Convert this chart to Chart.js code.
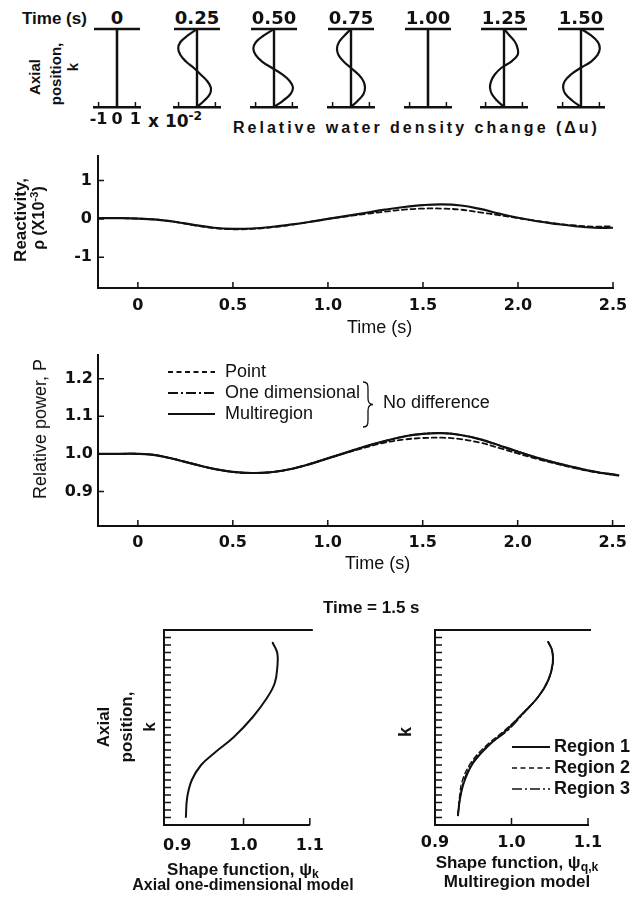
<!DOCTYPE html>
<html>
<head>
<meta charset="utf-8">
<script src="https://cdn.jsdelivr.net/npm/chart.js@4.4.1/dist/chart.umd.min.js"></script>
<style>
  body { margin: 0; background: #fff; }
  #page { position: relative; width: 643px; height: 900px; overflow: hidden; color: #111;
          font-family: "Liberation Sans", Arial, sans-serif; }
  canvas { position: absolute; }
  .t { position: absolute; white-space: nowrap; line-height: 1; transform: translate(0, -50%); }
  .c { transform: translate(-50%, -50%); }
  .r { transform: translate(-50%, -50%) rotate(-90deg); }
  .b { font-weight: bold; }
  .d { font-family: "DejaVu Sans", sans-serif; }
  sup { font-size: 0.72em; vertical-align: 0.5em; line-height: 0; }
  sub { font-size: 0.72em; vertical-align: -0.3em; line-height: 0; }
</style>
</head>
<body>
<div id="page">
  <div class="t b" style="left:22px;top:18px;font-size:17px">Time (s)</div>
  <div class="t b r" style="left:34px;top:77px;font-size:15px">Axial</div>
  <div class="t b r" style="left:55px;top:74px;font-size:15px">position,</div>
  <div class="t b r" style="left:72px;top:67px;font-size:15px">k</div>
  <div class="t b d" style="left:148px;top:121px;font-size:17px">x 10<sup>-2</sup></div>
  <div class="t b" style="left:233px;top:128px;font-size:16px;letter-spacing:3px">Relative water density change (Δu)</div>

  <canvas id="reactChart" width="643" height="200" style="left:0;top:140px"></canvas>
  <div class="t b r" style="left:20px;top:220px;font-size:17px">Reactivity,</div>
  <div class="t b r" style="left:39px;top:218px;font-size:16px">ρ (X10<sup>-3</sup>)</div>
  <div class="t" style="left:347px;top:327px;font-size:18px">Time (s)</div>

  <canvas id="powerChart" width="643" height="220" style="left:0;top:340px"></canvas>
  <div class="t r" style="left:40px;top:429px;font-size:18px">Relative power, P</div>
  <div class="t" style="left:345px;top:563px;font-size:18px">Time (s)</div>

  <div class="t b" style="left:323px;top:607px;font-size:17px">Time = 1.5 s</div>

  <canvas id="shapeAxial" width="245" height="245" style="left:90px;top:620px"></canvas>
  <div class="t b r" style="left:103px;top:727px;font-size:17px">Axial</div>
  <div class="t b r" style="left:126px;top:727px;font-size:17px">position,</div>
  <div class="t b r" style="left:149px;top:727px;font-size:17px">k</div>
  <div class="t b c" style="left:243px;top:869px;font-size:17px">Shape function, ψ<sub>k</sub></div>
  <div class="t b c" style="left:243px;top:885px;font-size:16px">Axial one-dimensional model</div>

  <canvas id="shapeMulti" width="263" height="245" style="left:380px;top:620px"></canvas>
  <div class="t b r" style="left:405px;top:732px;font-size:18px">k</div>
  <div class="t b c" style="left:517px;top:862px;font-size:17px">Shape function, ψ<sub>q,k</sub></div>
  <div class="t b c" style="left:517px;top:881px;font-size:17px">Multiregion model</div>
</div>

<script>
// ---- top row: water density change along the core at each snapshot ----
const snapshotLabels = ["0", "0.25", "0.50", "0.75", "1.00", "1.25", "1.50"];
const axialPos = [0, 0.083, 0.167, 0.25, 0.333, 0.417, 0.5, 0.583, 0.667, 0.75, 0.833, 0.917, 1];
const du000 = [0, 0, 0, 0, 0, 0, 0, 0, 0, 0, 0, 0, 0];
const du025 = [0, -0.5, -0.9, -1.02, -0.9, -0.6, -0.17, 0.2, 0.55, 0.75, 0.7, 0.4, 0];
const du050 = [0, -0.55, -0.98, -1.12, -1.0, -0.65, -0.1, 0.45, 0.85, 1.03, 0.9, 0.5, 0];
const du075 = [0, -0.35, -0.65, -0.76, -0.68, -0.4, 0, 0.4, 0.67, 0.76, 0.68, 0.38, 0];
const du100 = [0, 0, 0, 0, 0, 0, 0, 0, 0, 0, 0, 0, 0];
const du125 = [0, 0.3, 0.6, 0.74, 0.74, 0.4, -0.15, -0.5, -0.7, -0.76, -0.66, -0.38, 0];
const du150 = [0, 0.55, 0.92, 1.02, 0.9, 0.55, -0.03, -0.55, -0.88, -0.97, -0.85, -0.48, 0];
const duTicks = [-1, 0, 1];

// ---- reactivity (x10^-3) ----
const times = [-0.21, -0.1, 0, 0.1, 0.2, 0.3, 0.4, 0.5, 0.6, 0.7, 0.8, 0.9, 1.0, 1.1, 1.2, 1.3,
               1.4, 1.5, 1.6, 1.7, 1.8, 1.9, 2.0, 2.1, 2.2, 2.3, 2.4, 2.5];
const reactMulti = [0.02, 0.02, 0.01, -0.02, -0.08, -0.16, -0.23, -0.26, -0.25, -0.21, -0.15, -0.08, 0.0, 0.08,
                    0.16, 0.24, 0.31, 0.36, 0.38, 0.35, 0.26, 0.14, 0.03, -0.06, -0.13, -0.19, -0.23, -0.23];
const reactPoint = [0.02, 0.02, 0.01, -0.02, -0.08, -0.17, -0.24, -0.27, -0.26, -0.22, -0.16, -0.08, 0.0, 0.07,
                    0.13, 0.19, 0.24, 0.27, 0.27, 0.24, 0.17, 0.1, 0.02, -0.05, -0.12, -0.17, -0.2, -0.19];
const timeTicks = [0, 0.5, 1.0, 1.5, 2.0, 2.5];
const reactTicks = [-1, 0, 1];

// ---- relative power ----
const powerTimes = [-0.21, -0.1, 0, 0.1, 0.2, 0.3, 0.4, 0.5, 0.6, 0.7, 0.8, 0.9, 1.0, 1.1, 1.2, 1.3,
                    1.4, 1.5, 1.6, 1.7, 1.8, 1.9, 2.0, 2.1, 2.2, 2.3, 2.4, 2.53];
const powerMulti = [1.0, 1.0, 1.0, 0.996, 0.985, 0.972, 0.96, 0.952, 0.949, 0.951, 0.959, 0.972, 0.988, 1.004,
                    1.02, 1.034, 1.046, 1.053, 1.055, 1.05, 1.039, 1.023, 1.006, 0.99, 0.976, 0.964, 0.953, 0.943];
const powerOneDim = [1.0, 1.0, 1.0, 0.996, 0.985, 0.972, 0.96, 0.952, 0.949, 0.951, 0.959, 0.972, 0.988, 1.004,
                     1.02, 1.034, 1.046, 1.053, 1.055, 1.05, 1.039, 1.023, 1.006, 0.99, 0.976, 0.964, 0.953, 0.943];
const powerPoint = [1.0, 1.0, 1.0, 0.996, 0.985, 0.972, 0.96, 0.952, 0.949, 0.951, 0.959, 0.972, 0.988, 1.003,
                    1.017, 1.03, 1.038, 1.042, 1.043, 1.039, 1.03, 1.016, 1.001, 0.987, 0.974, 0.962, 0.952, 0.942];
const powerTicks = [0.9, 1.0, 1.1, 1.2];

// ---- shape functions at t = 1.5 s ----
const kAxial = [1.07, 3.7, 6, 8, 9.6, 11.7, 14.4, 16.9, 18.9, 21.1, 22.9, 24.3];
const psiAxial = [0.913, 0.915, 0.922, 0.936, 0.956, 0.985, 1.014, 1.035, 1.047, 1.051, 1.051, 1.044];
const kMulti = [1.3, 3.7, 6, 8.3, 10.4, 12.7, 14.9, 17.1, 19.3, 21.6, 23.3, 24.4];
const psiRegion1 = [0.930, 0.933, 0.939, 0.950, 0.968, 0.994, 1.015, 1.035, 1.048, 1.054, 1.053, 1.048];
const psiRegion2 = [0.930, 0.932, 0.936, 0.947, 0.965, 0.992, 1.015, 1.035, 1.048, 1.054, 1.053, 1.048];
const psiRegion3 = [0.930, 0.933, 0.938, 0.949, 0.967, 0.996, 1.016, 1.035, 1.048, 1.054, 1.053, 1.048];
const psiTicks = [0.9, 1.0, 1.1];
const kTicks = [1, 2, 3, 4, 5, 6, 7, 8, 9, 10, 11, 12, 13, 14, 15, 16, 17, 18, 19, 20, 21, 22, 23, 24, 25];

// layout of the top row (centre of each small panel, page px)
const panelCentres = [117, 197, 274, 351, 428, 504, 581];
const panelData = [du000, du025, du050, du075, du100, du125, du150];

const INK = "#111";
const DASH = [5, 3.5];
const DASHDOT = [10, 3, 2, 3];
const tickFont = { family: "DejaVu Sans", size: 16, weight: "bold" };
const noGrid = { display: false, drawTicks: false };
const axisBorder = { display: true, width: 2, color: INK };
const flatTicks = { autoSkip: false, maxRotation: 0, minRotation: 0 };

const pts = (xs, ys) => xs.map((v, i) => ({ x: v, y: ys[i] }));
const ptsK = (ks, psi) => ks.map((k, i) => ({ x: psi[i], y: k }));
const setTicks = vals => s => { s.ticks = vals.map(v => ({ value: v })); };
const fixW = w => s => { s.width = w; };
const fixH = h => s => { s.height = h; };
const fmt1 = v => v.toFixed(1);
const fmtTime = v => (v === 0 ? "0" : v.toFixed(1));

// dessine traits internes, lignes du cadre, légende et accolade
const extras = {
  id: "extras",
  afterDatasetsDraw(chart, args, o) {
    const { ctx, chartArea: a, scales } = chart;
    const x = scales.x, y = scales.y;
    ctx.save();
    ctx.strokeStyle = INK;
    ctx.fillStyle = INK;
    ctx.lineWidth = o.frameWidth || 2;
    ctx.beginPath();
    if (o.topLine) {
      ctx.moveTo(a.left - o.topLine[0], a.top);
      ctx.lineTo(a.right + o.topLine[1], a.top);
    }
    if (o.zeroLine) {
      const px = x.getPixelForValue(0);
      ctx.moveTo(px, a.top);
      ctx.lineTo(px, a.bottom);
    }
    ctx.stroke();

    ctx.lineWidth = 1.5;
    ctx.beginPath();
    (o.xTicks || []).forEach(v => {
      const px = x.getPixelForValue(v);
      ctx.moveTo(px, a.bottom);
      ctx.lineTo(px, a.bottom - o.tickLen);
    });
    (o.yTicks || []).forEach(v => {
      const py = y.getPixelForValue(v);
      ctx.moveTo(a.left, py);
      ctx.lineTo(a.left + o.tickLen, py);
    });
    ctx.stroke();

    if (o.legend) {
      const L = o.legend;
      ctx.font = L.font;
      ctx.textBaseline = "middle";
      L.order.forEach((idx, row) => {
        const ds = chart.data.datasets[idx];
        const yy = L.y + row * L.gap;
        ctx.lineWidth = ds.borderWidth;
        ctx.setLineDash(ds.borderDash || []);
        ctx.beginPath();
        ctx.moveTo(L.x, yy);
        ctx.lineTo(L.x + L.len, yy);
        ctx.stroke();
        ctx.setLineDash([]);
        ctx.fillText(ds.label, L.x + L.len + L.textGap, yy);
      });
    }

    if (o.brace) {
      const B = o.brace, w = B.w, mid = (B.top + B.bottom) / 2, bx = B.x;
      ctx.lineWidth = 1.3;
      ctx.setLineDash([]);
      ctx.beginPath();
      ctx.moveTo(bx, B.top);
      ctx.bezierCurveTo(bx + w * 0.5, B.top, bx + w * 0.5, B.top + 3, bx + w * 0.5, B.top + 8);
      ctx.lineTo(bx + w * 0.5, mid - 6);
      ctx.bezierCurveTo(bx + w * 0.5, mid - 2, bx + w * 0.7, mid, bx + w, mid);
      ctx.bezierCurveTo(bx + w * 0.7, mid, bx + w * 0.5, mid + 2, bx + w * 0.5, mid + 6);
      ctx.lineTo(bx + w * 0.5, B.bottom - 8);
      ctx.bezierCurveTo(bx + w * 0.5, B.bottom - 3, bx + w * 0.5, B.bottom, bx, B.bottom);
      ctx.stroke();
      ctx.font = B.font;
      ctx.textBaseline = "middle";
      ctx.fillText(B.text, B.textX, B.textY);
    }
    ctx.restore();
  }
};

const base = {
  responsive: false,
  animation: false,
  events: [],
  elements: { point: { radius: 0 }, line: { borderColor: INK, borderCapStyle: "round" } }
};
const quiet = { legend: { display: false }, tooltip: { enabled: false } };

// top row panels
const page = document.getElementById("page");
panelCentres.forEach((c, i) => {
  const lbl = document.createElement("div");
  lbl.className = "t b d c";
  lbl.style.cssText = `left:${c}px;top:18px;font-size:18px`;
  lbl.textContent = snapshotLabels[i];
  page.appendChild(lbl);

  const cv = document.createElement("canvas");
  cv.width = 86;
  cv.height = 110;
  cv.style.left = (c - 43) + "px";
  cv.style.top = "20px";
  page.appendChild(cv);

  new Chart(cv, {
    type: "line",
    data: { datasets: [{ data: ptsK(axialPos, panelData[i]), borderColor: INK, borderWidth: 2.2, tension: 0.4 }] },
    options: {
      ...base,
      layout: { padding: { left: 20, right: 20, top: 9, bottom: 0 } },
      scales: {
        x: {
          type: "linear", min: -1.25, max: 1.25,
          afterBuildTicks: setTicks(duTicks), afterFit: fixH(23),
          grid: noGrid, border: { display: true, width: 2.4, color: INK },
          ticks: { ...flatTicks, display: i === 0, font: tickFont, color: INK, padding: 3, callback: v => String(v) }
        },
        y: { type: "linear", min: 0, max: 1, reverse: true, display: false }
      },
      plugins: { ...quiet, extras: { topLine: [0, 0], zeroLine: true, frameWidth: 2.4, xTicks: [-1, 1], tickLen: 5 } }
    },
    plugins: [extras]
  });
});

// reactivity
new Chart(document.getElementById("reactChart"), {
  type: "line",
  data: {
    datasets: [
      { label: "Multiregion", data: pts(times, reactMulti), borderColor: INK, borderWidth: 2.2, tension: 0.4 },
      { label: "Point", data: pts(times, reactPoint), borderColor: INK, borderWidth: 1.8, borderDash: DASH, tension: 0.4 }
    ]
  },
  options: {
    ...base,
    layout: { padding: { left: 0, top: 10, right: 30, bottom: 0 } },
    scales: {
      x: {
        type: "linear", min: -0.21, max: 2.5,
        afterBuildTicks: setTicks(timeTicks), afterFit: fixH(52),
        grid: noGrid, border: axisBorder,
        ticks: { ...flatTicks, font: tickFont, color: INK, padding: 8, callback: fmtTime }
      },
      y: {
        type: "linear", min: -1.8, max: 1.65,
        afterBuildTicks: setTicks(reactTicks), afterFit: fixW(98),
        grid: noGrid, border: axisBorder,
        ticks: { font: tickFont, color: INK, padding: 6, callback: v => String(v) }
      }
    },
    plugins: { ...quiet, extras: { xTicks: timeTicks, yTicks: reactTicks, tickLen: 6 } }
  },
  plugins: [extras]
});

// relative power
new Chart(document.getElementById("powerChart"), {
  type: "line",
  data: {
    datasets: [
      { label: "Multiregion", data: pts(powerTimes, powerMulti), borderColor: INK, borderWidth: 2.2, tension: 0.4 },
      { label: "One dimensional", data: pts(powerTimes, powerOneDim), borderColor: INK, borderWidth: 1.8, borderDash: DASHDOT, tension: 0.4 },
      { label: "Point", data: pts(powerTimes, powerPoint), borderColor: INK, borderWidth: 1.8, borderDash: DASH, tension: 0.4 }
    ]
  },
  options: {
    ...base,
    layout: { padding: { left: 0, top: 8, right: 19, bottom: 0 } },
    scales: {
      x: {
        type: "linear", min: -0.21, max: 2.56,
        afterBuildTicks: setTicks(timeTicks), afterFit: fixH(34),
        grid: noGrid, border: axisBorder,
        ticks: { ...flatTicks, font: tickFont, color: INK, padding: 7, callback: fmtTime }
      },
      y: {
        type: "linear", min: 0.808, max: 1.264,
        afterBuildTicks: setTicks(powerTicks), afterFit: fixW(98),
        grid: noGrid, border: axisBorder,
        ticks: { font: tickFont, color: INK, padding: 5, callback: fmt1 }
      }
    },
    plugins: {
      ...quiet,
      extras: {
        xTicks: timeTicks, yTicks: powerTicks, tickLen: 6,
        legend: { x: 168, y: 32, gap: 21, len: 47, textGap: 10, order: [2, 1, 0], font: '18px "Liberation Sans"' },
        brace: { x: 363, top: 42, bottom: 87, w: 10, text: "No difference", textX: 383, textY: 63, font: '18px "Liberation Sans"' }
      }
    }
  },
  plugins: [extras]
});

// shape function, axial one-dimensional model
new Chart(document.getElementById("shapeAxial"), {
  type: "line",
  data: { datasets: [{ data: ptsK(kAxial, psiAxial), borderColor: INK, borderWidth: 2, tension: 0.4 }] },
  options: {
    ...base,
    layout: { padding: { left: 0, top: 10, right: 18, bottom: 0 } },
    scales: {
      x: {
        type: "linear", min: 0.88, max: 1.1,
        afterBuildTicks: setTicks(psiTicks), afterFit: fixH(40),
        grid: noGrid, border: axisBorder,
        ticks: { ...flatTicks, font: tickFont, color: INK, padding: 11, callback: fmt1 }
      },
      y: {
        type: "linear", min: 0, max: 26,
        afterBuildTicks: setTicks(kTicks), afterFit: fixW(74),
        grid: noGrid, border: axisBorder, ticks: { display: false }
      }
    },
    plugins: { ...quiet, extras: { topLine: [0, 3], xTicks: [1.0, 1.1], yTicks: kTicks, tickLen: 7 } }
  },
  plugins: [extras]
});

// shape function, multiregion model
new Chart(document.getElementById("shapeMulti"), {
  type: "line",
  data: {
    datasets: [
      { label: "Region 1", data: ptsK(kMulti, psiRegion1), borderColor: INK, borderWidth: 2, tension: 0.4 },
      { label: "Region 2", data: ptsK(kMulti, psiRegion2), borderColor: INK, borderWidth: 1.4, borderDash: DASH, tension: 0.4 },
      { label: "Region 3", data: ptsK(kMulti, psiRegion3), borderColor: INK, borderWidth: 1.4, borderDash: DASHDOT, tension: 0.4 }
    ]
  },
  options: {
    ...base,
    layout: { padding: { left: 0, top: 10, right: 55, bottom: 0 } },
    scales: {
      x: {
        type: "linear", min: 0.9, max: 1.1,
        afterBuildTicks: setTicks(psiTicks), afterFit: fixH(40),
        grid: noGrid, border: axisBorder,
        ticks: { ...flatTicks, font: tickFont, color: INK, padding: 8, callback: fmt1 }
      },
      y: {
        type: "linear", min: 0, max: 26,
        afterBuildTicks: setTicks(kTicks), afterFit: fixW(55),
        grid: noGrid, border: axisBorder, ticks: { display: false }
      }
    },
    plugins: {
      ...quiet,
      extras: {
        topLine: [0, 3], xTicks: [1.0, 1.1], yTicks: kTicks, tickLen: 7,
        legend: { x: 132, y: 127, gap: 21, len: 38, textGap: 4, order: [0, 1, 2], font: 'bold 18px "Liberation Sans"' }
      }
    }
  },
  plugins: [extras]
});
</script>
</body>
</html>
